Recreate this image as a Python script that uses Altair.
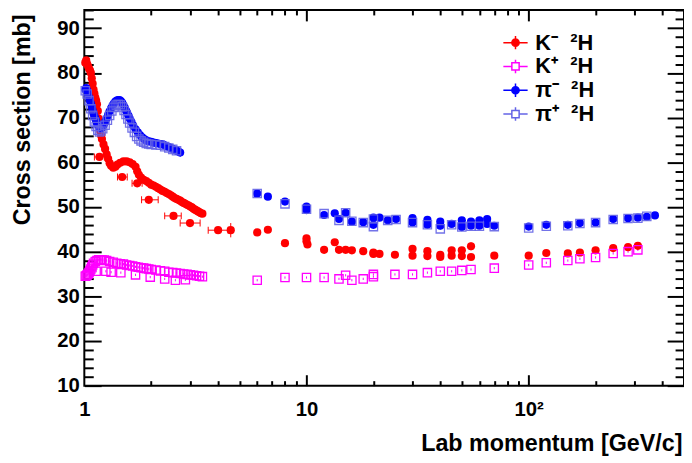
import altair as alt
import pandas as pd

FONT = "Liberation Sans"

# ---------------- series names / colours ----------------
NAMES = ["K\u207b\u00a0\u00a0\u00b2H", "K\u207a\u00a0\u00a0\u00b2H",
         "\u03c0\u207b\u00a0\u00a0\u00b2H", "\u03c0\u207a\u00a0\u00a0\u00b2H"]
COLORS = ["#ff0000", "#ff00ff", "#0000ff", "#6464e6"]
FILLS = ["#ff0000", "transparent", "#0000ff", "transparent"]

# ---------------- K- 2H ----------------
KM_LOW_P = [1.01, 1.02, 1.03, 1.04, 1.05, 1.06, 1.07, 1.08, 1.09, 1.10, 1.11, 1.12, 1.13, 1.14, 1.15, 1.16, 1.17, 1.18, 1.19, 1.20,
            1.22, 1.24, 1.26, 1.28, 1.30, 1.32,
            1.35, 1.38, 1.41, 1.45, 1.50, 1.55, 1.60, 1.65, 1.70, 1.73, 1.76, 1.80, 1.85, 1.90, 1.95,
            2.00, 2.05, 2.10, 2.15, 2.20, 2.25, 2.30, 2.35, 2.40, 2.45, 2.50, 2.55, 2.60, 2.65, 2.70, 2.75, 2.80, 2.85, 2.90, 2.95,
            3.00, 3.05, 3.10, 3.15, 3.20, 3.25, 3.30, 3.35, 3.40]
KM_LOW_S = [82.3, 82.8, 82.0, 81.5, 81.0, 80.6, 80.0, 78.8, 77.6, 76.3, 75.4, 74.5, 73.8, 73.0, 71.5, 69.8, 68.3, 67.0, 66.0, 65.2,
            64.0, 63.0, 61.8, 60.8, 59.8, 59.2,
            58.8, 59.0, 59.5, 59.9, 60.2, 60.2, 60.0, 59.6, 59.0, 58.0, 57.2, 56.6, 56.1, 55.8, 55.4,
            55.0, 54.8, 54.5, 54.2, 53.9, 53.6, 53.4, 53.1, 52.9, 52.6, 52.3, 52.0, 51.8, 51.6, 51.4, 51.1, 50.9, 50.7, 50.5, 50.3,
            50.1, 49.9, 49.6, 49.4, 49.2, 49.0, 48.8, 48.6, 48.5]
KM_LOW_E = [0.3] * 70

KM_XB_P = [1.17, 1.48, 1.73, 1.95, 2.52, 2.99, 4.0, 4.56]
KM_XB_S = [61.2, 56.7, 55.3, 51.6, 48.0, 46.4, 44.8, 44.8]
KM_XB_LO = [1.11, 1.41, 1.64, 1.81, 2.30, 2.70, 3.61, 4.56]
KM_XB_HI = [1.23, 1.56, 1.82, 2.15, 2.73, 3.32, 4.44, 4.56]
KM_XB_E = [0.3, 0.3, 0.3, 0.3, 0.3, 0.3, 0.3, 1.6]

KM_HIGH_P = [6.0, 6.7, 8.0, 10.0, 10.0, 10.1, 12.0, 13.4, 14.0, 15.0, 16.0, 18.0, 20.0, 20.0, 21.3, 25.0,
             30.0, 30.0, 35.0, 35.0, 40.0, 40.0, 45.0, 45.0, 50.0, 50.0, 55.0, 55.0,
             70.0, 100, 120, 150, 170, 200, 240, 280, 310]
KM_HIGH_S = [44.3, 44.9, 41.9, 43.0, 42.3, 41.6, 40.4, 42.1, 40.4, 40.4, 40.3, 40.1, 39.8, 39.5, 39.5, 39.3,
             40.6, 39.1, 40.1, 39.0, 39.3, 38.8, 40.3, 39.1, 40.3, 39.0, 41.2, 38.8,
             39.1, 39.1, 39.7, 39.6, 39.8, 40.3, 40.8, 41.0, 41.3]
KM_HIGH_E = [0.3] * 26 + [0.9] + [0.3] * 10

# ---------------- K+ 2H ----------------
KP_LOW_P = [1.01, 1.02, 1.03, 1.04, 1.05, 1.06, 1.07, 1.08, 1.09, 1.10,
            1.12, 1.14, 1.16, 1.18, 1.20,
            1.23, 1.26, 1.30, 1.35, 1.40, 1.45, 1.50, 1.55, 1.60, 1.65, 1.70, 1.75, 1.80, 1.85, 1.90, 1.95, 2.00,
            2.10, 2.20, 2.30, 2.40, 2.50, 2.60, 2.70, 2.80, 2.90, 3.00, 3.10, 3.20, 3.30, 3.40]
KP_LOW_S = [34.5, 34.6, 34.8, 35.0, 35.3, 35.7, 36.1, 36.6, 37.0, 37.4,
            37.8, 38.0, 38.2, 38.2, 38.2,
            38.1, 38.0, 37.8, 37.6, 37.4, 37.3, 37.2, 37.0, 36.9, 36.8, 36.6, 36.5, 36.4, 36.3, 36.2, 36.1, 36.0,
            35.9, 35.7, 35.6, 35.4, 35.3, 35.2, 35.1, 35.0, 34.9, 34.8, 34.7, 34.6, 34.5, 34.4]
KP_OLD_P = [1.13, 1.25, 1.32, 1.46, 1.70, 1.98, 2.30, 2.57, 2.85]
KP_OLD_S = [35.6, 35.6, 35.4, 35.3, 34.8, 34.3, 33.9, 33.6, 33.7]
KP_HIGH_P = [6.0, 8.0, 10.0, 12.0, 14.0, 15.0, 16.0, 18.0, 20.0, 20.0, 25.0, 30.0, 35.0, 40.0, 45.0, 50.0, 55.0, 70.0,
             100, 120, 150, 170, 200, 240, 280, 310]
KP_HIGH_S = [33.6, 34.2, 34.2, 34.2, 33.9, 34.7, 33.6, 33.9, 34.9, 34.4, 34.9, 34.9, 35.3, 35.6, 35.6, 35.8, 36.0, 36.3,
             37.0, 37.5, 38.0, 38.4, 38.7, 39.6, 40.0, 40.4]

# ---------------- pi- 2H ----------------
PM_LOW_P = [1.01, 1.02, 1.03, 1.04, 1.05, 1.06, 1.07, 1.08, 1.09, 1.10, 1.11, 1.12, 1.13, 1.14, 1.15, 1.16, 1.17, 1.18, 1.19, 1.20,
            1.22, 1.24, 1.26, 1.28, 1.30, 1.32, 1.34, 1.36, 1.38, 1.40, 1.42, 1.44, 1.46, 1.48, 1.50, 1.52, 1.54, 1.56, 1.58, 1.60,
            1.63, 1.66, 1.70, 1.74, 1.78, 1.82, 1.86, 1.90, 1.95,
            2.00, 2.05, 2.10, 2.15, 2.20, 2.25, 2.30, 2.35, 2.40, 2.45, 2.50, 2.55, 2.60, 2.65, 2.70]
PM_LOW_S = [76.3, 76.6, 76.0, 75.2, 74.5, 73.8, 73.2, 72.4, 71.6, 70.9, 70.3, 69.8, 69.3, 68.8, 68.4, 68.0, 67.8, 67.6, 67.6, 67.8,
            68.3, 69.0, 69.8, 70.6, 71.4, 72.1, 72.7, 73.2, 73.6, 73.8, 73.9, 73.9, 73.7, 73.3, 72.8, 72.2, 71.6, 71.0, 70.4, 69.8,
            69.0, 68.2, 67.4, 66.7, 66.1, 65.6, 65.2, 64.9, 64.7,
            64.6, 64.4, 64.3, 64.2, 64.1, 64.0, 63.8, 63.6, 63.4, 63.2, 63.0, 62.8, 62.6, 62.4, 62.2]
PM_LOW_E = [0.3] * 57 + [0.7, 0.8, 0.8, 0.9, 0.9, 1.0, 1.0]
PM_HIGH_P = [6.0, 6.7, 8.0, 10.0, 10.0, 12.0, 13.4, 14.0, 15.0, 16.0, 18.0, 20.0, 20.0, 21.3, 23.2, 25.3,
             30.0, 30.0, 35.0, 35.0, 40.0, 40.0, 45.0, 50.0, 50.0, 50.0, 55.0, 55.0, 60.0, 60.0, 65.0, 65.0, 70.0,
             100, 120, 150, 170, 200, 240, 280, 310, 340, 370]
PM_HIGH_S = [53.0, 52.3, 51.2, 50.1, 49.3, 48.2, 48.6, 47.3, 48.7, 46.7, 46.6, 47.6, 46.0, 47.6, 47.0, 47.3,
             47.5, 46.5, 47.1, 46.0, 46.7, 45.8, 46.2, 47.0, 46.0, 45.5, 46.7, 45.8, 47.0, 45.8, 47.3, 46.2, 45.8,
             45.6, 46.0, 46.0, 46.4, 46.5, 47.3, 47.5, 47.6, 47.8, 48.1]

# ---------------- pi+ 2H ----------------
PP_LOW_P = [1.01, 1.03, 1.05, 1.07, 1.09, 1.11, 1.13, 1.15, 1.17, 1.19, 1.21,
            1.24, 1.27, 1.30, 1.33, 1.36, 1.39, 1.42, 1.45, 1.48, 1.51, 1.54, 1.57, 1.60,
            1.64, 1.68, 1.72, 1.76, 1.80, 1.85, 1.90, 1.95, 2.00, 2.10, 2.20, 2.30, 2.40, 2.50, 2.60]
PP_LOW_S = [76.0, 75.3, 73.8, 72.0, 70.5, 69.0, 68.0, 67.2, 66.8, 67.0, 67.5,
            68.3, 69.4, 70.5, 71.5, 72.3, 72.8, 73.0, 72.9, 72.4, 71.6, 70.7, 69.7, 68.8,
            67.7, 66.7, 65.8, 65.2, 64.8, 64.5, 64.2, 64.1, 64.0, 63.9, 63.8, 63.5, 63.2, 62.9, 62.6]
PP_HIGH_P = [6.0, 8.0, 10.0, 12.0, 14.0, 15.0, 16.0, 18.0, 20.0, 20.0, 23.2, 25.3, 30.0, 35.0, 40.0, 45.0, 50.0, 55.0, 60.0, 70.0,
             100, 120, 150, 170, 200, 240, 280, 310, 340]
PP_HIGH_S = [53.0, 50.7, 49.5, 48.5, 47.0, 48.7, 46.8, 46.5, 47.3, 45.6, 47.0, 47.2, 46.5, 46.0, 45.1, 46.0, 45.5, 45.7, 45.7, 45.6,
             45.3, 45.7, 45.8, 46.3, 46.5, 47.2, 47.4, 47.5, 47.9]

# ---------------- axes ----------------
X_LABEL_VALUES = [1, 10, 100]
X_LABEL_TEXT = ["1", "10", "10\u00b2"]
X_MAJOR = [10, 100]
X_MINOR = [2, 3, 4, 5, 6, 7, 8, 9, 20, 30, 40, 50, 60, 70, 80, 90, 200, 300, 400]
Y_MAJOR = [10, 20, 30, 40, 50, 60, 70, 80, 90]
Y_MINOR = [12, 14, 16, 18, 22, 24, 26, 28, 32, 34, 36, 38, 42, 44, 46, 48, 52, 54, 56, 58,
           62, 64, 66, 68, 72, 74, 76, 78, 82, 84, 86, 88, 92, 94]
X_TITLE = "Lab momentum [GeV/c]"
Y_TITLE = "Cross section [mb]"


def rows(name, ps, ss, es=None):
    if es is None:
        es = [0.25] * len(ps)
    return [{"series": name, "p": p, "s": s, "lo": s - e, "hi": s + e}
            for p, s, e in zip(ps, ss, es, strict=True)]


recs = []
recs += rows(NAMES[0], KM_LOW_P, KM_LOW_S, KM_LOW_E)
recs += rows(NAMES[0], KM_XB_P, KM_XB_S, KM_XB_E)
recs += rows(NAMES[0], KM_HIGH_P, KM_HIGH_S, KM_HIGH_E)
recs += rows(NAMES[1], KP_LOW_P, KP_LOW_S)
recs += rows(NAMES[1], KP_OLD_P, KP_OLD_S)
recs += rows(NAMES[1], KP_HIGH_P, KP_HIGH_S)
recs += rows(NAMES[2], PM_LOW_P, PM_LOW_S, PM_LOW_E)
recs += rows(NAMES[2], PM_HIGH_P, PM_HIGH_S)
recs += rows(NAMES[3], PP_LOW_P, PP_LOW_S)
recs += rows(NAMES[3], PP_HIGH_P, PP_HIGH_S)
df = pd.DataFrame(recs)

xb = pd.DataFrame({"s": KM_XB_S, "xlo": KM_XB_LO, "xhi": KM_XB_HI})
xb = xb[xb["xlo"] < xb["xhi"]]
caps = pd.concat([pd.DataFrame({"xc": xb["xlo"], "s": xb["s"]}),
                  pd.DataFrame({"xc": xb["xhi"], "s": xb["s"]})])

XS = alt.Scale(type="log", domain=[1, 500], nice=False)
YS = alt.Scale(domain=[10, 94.1], zero=False, nice=False)


def px(field="p"):
    return alt.X(f"{field}:Q", scale=XS, axis=None)


def py(field="s"):
    return alt.Y(f"{field}:Q", scale=YS, axis=None)


layers = []

# vertical error bars, one layer per series
for i, name in enumerate(NAMES):
    layers.append(alt.Chart(df).transform_filter(alt.datum.series == name)
                  .mark_rule(strokeWidth=1, opacity=1, color=COLORS[i])
                  .encode(x=px(), y=py("lo"), y2="hi:Q"))
# horizontal error bars for K-
layers.append(alt.Chart(xb).mark_rule(strokeWidth=1, color=COLORS[0], opacity=1).encode(
    x=px("xlo"), x2="xhi:Q", y=py()))
layers.append(alt.Chart(caps).mark_tick(orient="vertical", size=7, thickness=1, color=COLORS[0], opacity=1).encode(
    x=px("xc"), y=py()))

# markers
for i, name in enumerate(NAMES):
    mk = alt.Chart(df).transform_filter(alt.datum.series == name)
    if i in (0, 2):
        mk = mk.mark_point(filled=True, shape="circle", size=68, opacity=1, color=COLORS[i])
    else:
        mk = mk.mark_point(filled=False, shape="square", size=70, strokeWidth=1.3,
                           opacity=0.9 if i == 3 else 1, color=COLORS[i])
    layers.append(mk.encode(x=px(), y=py()))

# legend (symbol paths mimic marker + error cross); the layer draws no marks itself
CIRCLE_PATH = "M-1,0H1M0,-0.55V0.55M0.3,0A0.3,0.3,0,1,1,-0.3,0A0.3,0.3,0,1,1,0.3,0Z"
SQUARE_PATH = ("M-1,0H-0.3M0.3,0H1M0,-0.55V-0.3M0,0.3V0.55"
               "M-0.3,-0.3H0.3V0.3H-0.3Z")
PATHS = [CIRCLE_PATH, SQUARE_PATH, CIRCLE_PATH, SQUARE_PATH]
LEG = alt.Legend(title=None, orient="none", legendX=422, legendY=20, symbolSize=600,
                 symbolStrokeWidth=1.5, symbolOpacity=1, labelFont=FONT, labelFontSize=22,
                 labelFontWeight="bold", labelColor="black", labelOffset=7, rowPadding=0,
                 padding=0)
layers.append(alt.Chart(df).transform_filter("false").mark_point(opacity=1, size=60).encode(
    x=px(), y=py(),
    shape=alt.Shape("series:N", scale=alt.Scale(domain=NAMES, range=PATHS), legend=LEG),
    stroke=alt.Stroke("series:N", scale=alt.Scale(domain=NAMES, range=COLORS), legend=LEG),
    fill=alt.Fill("series:N", scale=alt.Scale(domain=NAMES, range=FILLS), legend=LEG)))

# main axes (labels + titles)
label_expr = " : ".join(f"datum.value == {v} ? '{t}'" for v, t in zip(X_LABEL_VALUES[:-1], X_LABEL_TEXT[:-1])) \
    + f" : '{X_LABEL_TEXT[-1]}'"
base = alt.Chart(df).transform_filter("false").mark_point(opacity=0)
layers.append(base.encode(
    x=alt.X("p:Q", scale=XS, axis=alt.Axis(
        orient="bottom", values=X_LABEL_VALUES, labelExpr=label_expr, ticks=False, tickSize=0,
        domain=False, grid=False, labelFlush=False, labelOverlap=False, labelPadding=14,
        labelFontSize=20.5, title=X_TITLE, titleX=603, titleY=65, titleAlign="right",
        titleBaseline="alphabetic", titleFontSize=23.5)),
    y=alt.Y("s:Q", scale=YS, axis=alt.Axis(
        orient="left", values=Y_MAJOR, ticks=False, tickSize=0, domain=False, grid=False,
        labelPadding=5, labelFontSize=20.5, labelOverlap=False, title=Y_TITLE, titleAngle=270,
        titleX=-55, titleY=4, titleAlign="right", titleBaseline="alphabetic",
        titleFontSize=23.5))))


def tick_axis(orient, values, size):
    return alt.Axis(orient=orient, values=values, labels=False, domain=False, grid=False,
                    ticks=True, tickSize=size, offset=-size, title=None)


for xo, yo in (("bottom", "left"), ("top", "right")):
    layers.append(base.encode(
        x=alt.X("p:Q", scale=XS, axis=tick_axis(xo, X_MAJOR, 11)),
        y=alt.Y("s:Q", scale=YS, axis=tick_axis(yo, Y_MAJOR, 17))))
    layers.append(base.encode(
        x=alt.X("p:Q", scale=XS, axis=tick_axis(xo, X_MINOR, 5)),
        y=alt.Y("s:Q", scale=YS, axis=tick_axis(yo, Y_MINOR, 9))))

chart = alt.layer(*layers).resolve_axis(x="independent", y="independent").properties(
    width=605, height=379,
    padding={"left": 77, "top": 0, "right": 0, "bottom": 70},
    autosize=alt.AutoSizeParams(type="none"),
).configure_view(stroke="black", strokeWidth=2).configure_axis(
    labelFont=FONT, titleFont=FONT, labelFontWeight="bold", titleFontWeight="bold",
    labelColor="black", titleColor="black", tickColor="black", tickWidth=2)

chart.save("out.html", embed_options={"renderer": "svg", "actions": False})
